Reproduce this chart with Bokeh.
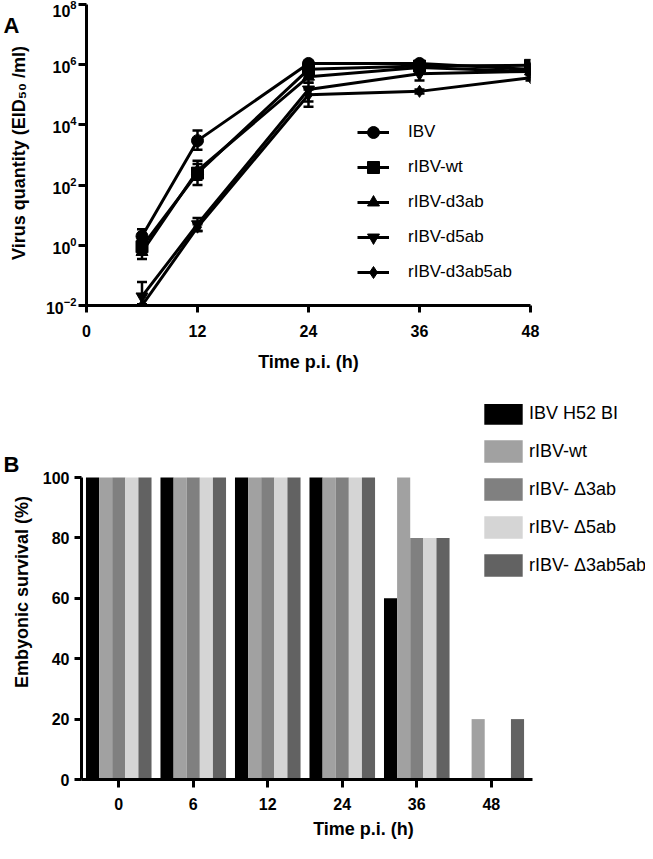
from bokeh.plotting import figure
from bokeh.models import (ColumnDataSource, Whisker, TeeHead, FixedTicker, Legend,
                          LegendItem, Range1d, LinearAxis)
from bokeh.transform import dodge
from bokeh.embed import file_html
from bokeh.resources import INLINE

# ---------------- Panel A data ----------------
hours = [6, 12, 24, 36, 48]
series_a = ["IBV", "rIBV-wt", "rIBV-d3ab", "rIBV-d5ab", "rIBV-d3ab5ab"]
markers_a = ["circle", "square", "triangle", "inverted_triangle", "diamond"]

ibv = [2.0, 3000, 1.1e6, 1.1e6, 7e5]
ibv_lo = [1.0, 1500, 9e5, 9e5, 6e5]
ibv_hi = [3.4, 6500, 1.3e6, 1.3e6, 8e5]

wt = [0.9, 250, 7e5, 9e5, 9.5e5]
wt_lo = [0.5, 100, 4e5, 7e5, 8e5]
wt_hi = [1.5, 650, 1.0e6, 1.1e6, 1.1e6]

d3ab = [0.6, 300, 4e5, 8e5, 6e5]
d3ab_lo = [0.35, 150, 2.5e5, 6e5, 5e5]
d3ab_hi = [1.0, 500, 6e5, 1.0e6, 7e5]

d5ab = [0.02, 5, 1.5e5, 5e5, 6e5]
d5ab_lo = [0.011, 3, 4e4, 3e5, 5e5]
d5ab_hi = [0.06, 8, 2.5e5, 7e5, 7e5]

d3ab5ab = [0.01, 4, 1e5, 1.3e5, 3.7e5]
d3ab5ab_lo = [0.01, 3, 6e4, 1.1e5, 3e5]
d3ab5ab_hi = [0.01, 5, 1.5e5, 1.5e5, 4.5e5]

x_ticks_a = [0, 12, 24, 36, 48]
y_ticks_a = [1e-2, 1e0, 1e2, 1e4, 1e6, 1e8]

# ---------------- Panel B data ----------------
times_b = ["0", "6", "12", "24", "36", "48"]
series_b = ["IBV H52 BI", "rIBV-wt", "rIBV- \u03943ab", "rIBV- \u03945ab", "rIBV- \u03943ab5ab"]
surv_ibv = [100, 100, 100, 100, 60, 0]
surv_wt = [100, 100, 100, 100, 100, 20]
surv_d3ab = [100, 100, 100, 100, 80, 0]
surv_d5ab = [100, 100, 100, 100, 80, 0]
surv_d3ab5ab = [100, 100, 100, 100, 80, 20]
colors_b = ["#000000", "#a1a1a1", "#808080", "#d5d5d5", "#626262"]
y_ticks_b = [0, 20, 40, 60, 80, 100]

FONT = "Liberation Sans"


def style_axis(ax):
    ax.axis_line_width = 3
    ax.axis_line_color = "black"
    ax.major_tick_line_width = 3
    ax.major_tick_line_color = "black"
    ax.major_tick_in = 0
    ax.major_tick_out = 7
    ax.minor_tick_line_color = None
    ax.major_label_text_font = FONT
    ax.major_label_text_font_style = "bold"
    ax.major_label_text_font_size = "16px"
    ax.major_label_text_color = "black"
    ax.axis_label_text_font = FONT
    ax.axis_label_text_font_style = "bold"
    ax.axis_label_text_font_size = "18px"
    ax.axis_label_text_color = "black"


def style_fig(p):
    style_axis(p.xaxis[0])
    style_axis(p.yaxis[0])
    p.xgrid.visible = False
    p.ygrid.visible = False
    p.outline_line_color = None


def letter_axis(range_name, pos, letter, standoff):
    ax = LinearAxis(y_range_name=range_name, ticker=FixedTicker(ticks=[pos]),
                    major_label_overrides={pos: letter},
                    axis_line_color=None, major_tick_line_color=None,
                    minor_tick_line_color=None, major_tick_out=0, major_tick_in=0,
                    major_label_standoff=standoff,
                    major_label_text_font=FONT, major_label_text_font_style="bold",
                    major_label_text_font_size="22px", major_label_text_color="black")
    return ax


# ---------------- Panel A ----------------
# frame reaches a little above 10^8 so the panel letter can sit at the very top;
# the visible axis line stops at 10^8
pA = figure(width=645, height=390, x_range=Range1d(0, 48), y_range=Range1d(1e-2, 10 ** 8.133),
            y_axis_type="log", output_backend="svg", toolbar_location=None,
            min_border_left=78, min_border_right=115, min_border_top=0, min_border_bottom=85)
style_fig(pA)
pA.xaxis.ticker = FixedTicker(ticks=x_ticks_a)
pA.yaxis.ticker = FixedTicker(ticks=y_ticks_a)
pA.yaxis.bounds = (y_ticks_a[0], y_ticks_a[-1])
pA.xaxis.major_label_standoff = 12
pA.xaxis.axis_label_standoff = 12
pA.yaxis.major_tick_out = 8
pA.yaxis.major_label_standoff = 2
pA.yaxis.axis_label_standoff = 14
pA.xaxis.axis_label = "Time p.i. (h)"
pA.yaxis.axis_label = "Virus quantity (EID\u2085\u2080 /ml)"

data_a = [(ibv, ibv_lo, ibv_hi), (wt, wt_lo, wt_hi), (d3ab, d3ab_lo, d3ab_hi),
          (d5ab, d5ab_lo, d5ab_hi), (d3ab5ab, d3ab5ab_lo, d3ab5ab_hi)]
line_rs = []
for name, mk, (vals, lo, hi) in zip(series_a, markers_a, data_a):
    src = ColumnDataSource(dict(x=hours, y=vals, lo=lo, hi=hi))
    lr = pA.line("x", "y", source=src, line_width=3, line_color="black")
    w = Whisker(base="x", upper="hi", lower="lo", source=src, line_width=2.5, line_color="black",
                upper_head=TeeHead(size=10, line_width=2.5, line_color="black"),
                lower_head=TeeHead(size=10, line_width=2.5, line_color="black"))
    pA.add_layout(w)
    line_rs.append((name, lr, mk, src))

items_a = []
for name, lr, mk, src in line_rs:
    sr = pA.scatter("x", "y", source=src, marker=mk, size=12, fill_color="black", line_color="black")
    items_a.append(LegendItem(label=name, renderers=[lr, sr]))

legA = Legend(items=items_a, location=(271, 18), orientation="vertical",
              glyph_width=32, glyph_height=30, label_height=20, spacing=5,
              label_standoff=19, padding=0, margin=0,
              border_line_color=None, background_fill_alpha=0,
              label_text_font=FONT, label_text_font_size="17px", label_text_color="black")
pA.add_layout(legA)

# panel letter "A" as an outer label-only axis
pA.extra_y_ranges = {"letter": Range1d(0, 1)}
pA.add_layout(letter_axis("letter", 1.0, "A", -14), "left")

# ---------------- Panel B ----------------
x_idx = list(range(len(times_b)))
pB = figure(width=645, height=453, x_range=Range1d(-0.5, 7.07), y_range=Range1d(0, 124.2),
            output_backend="svg", toolbar_location=None,
            min_border_left=72, min_border_right=0, min_border_top=14, min_border_bottom=64)
style_fig(pB)
pB.xaxis.ticker = FixedTicker(ticks=x_idx)
pB.xaxis.major_label_overrides = dict(zip(x_idx, times_b))
pB.xaxis.bounds = (-0.5, 5.55)
pB.yaxis.ticker = FixedTicker(ticks=y_ticks_b)
pB.yaxis.bounds = (0, 100)
pB.xaxis.major_tick_out = 8
pB.xaxis.major_label_standoff = 10
pB.xaxis.axis_label_standoff = 6
pB.yaxis.major_label_standoff = 5
pB.yaxis.axis_label_standoff = 8
pB.xaxis.axis_label = "Time p.i. (h)"
pB.yaxis.axis_label = "Embyonic survival (%)"

src_b = ColumnDataSource(dict(t=x_idx, s0=surv_ibv, s1=surv_wt, s2=surv_d3ab,
                              s3=surv_d5ab, s4=surv_d3ab5ab))
bw = 0.176
offsets = [-2 * bw, -bw, 0, bw, 2 * bw]
items_b = []
for i, (name, col) in enumerate(zip(series_b, colors_b)):
    r = pB.vbar(x=dodge("t", offsets[i]), top="s%d" % i, width=bw,
                source=src_b, fill_color=col, line_color=None)
    items_b.append(LegendItem(label=name, renderers=[r]))

legB = Legend(items=items_b, location=(398, 200), orientation="vertical",
              glyph_width=48, glyph_height=28, label_height=22, spacing=10,
              label_standoff=2, padding=0, margin=0,
              border_line_color=None, background_fill_alpha=0,
              label_text_font=FONT, label_text_font_size="18px", label_text_color="black")
pB.add_layout(legB)

pB.extra_y_ranges = {"letter": Range1d(0, 1)}
pB.add_layout(letter_axis("letter", 0.839, "B", -11), "left")

# two independent roots, stacked vertically on the page
open("out.html", "w").write(file_html([pA, pB], INLINE))
